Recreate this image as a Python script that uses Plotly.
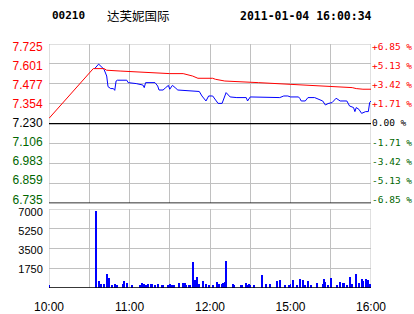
import plotly.graph_objects as go

# ---------------- data ----------------
stock_code = "00210"
stock_name = "达芙妮国际"
timestamp = "2011-01-04 16:00:34"

prev_close = 7.230
price_tick_vals = [6.735, 6.859, 6.983, 7.106, 7.230, 7.354, 7.477, 7.601, 7.725]
price_tick_text = ["6.735", "6.859", "6.983", "7.106", "7.230", "7.354", "7.477", "7.601", "7.725"]
pct_tick_text = ["-6.85 %", "-5.13 %", "-3.42 %", "-1.71 %", "0.00 %",
                 "+1.71 %", "+3.42 %", "+5.13 %", "+6.85 %"]

time_tick_vals = [0, 30, 60, 90, 120, 150, 180, 210, 240]
time_tick_text = ["10:00", "", "11:00", "", "12:00", "", "15:00", "", "16:00"]

vol_tick_vals = [1750, 3500, 5250, 7000]
vol_tick_text = ["1750", "3500", "5250", "7000"]

# price line (minute index from 10:00, price)
price_min = [34, 37, 41, 43, 44, 46, 48, 49, 50, 51, 58, 59, 65, 68, 70, 71, 72, 79, 81, 82,
             85, 87, 89, 90, 92, 94, 96, 112, 114, 117, 119, 122, 124, 126, 129, 130, 132,
             135, 140, 147, 148, 150, 170, 172, 175, 178, 180, 186, 187, 188, 191, 193,
             198, 201, 204, 206, 208, 211, 214, 217, 222, 224, 227, 228, 229, 231, 233,
             236, 238, 239, 240]
price_val = [7.572, 7.600, 7.568, 7.526, 7.460, 7.448, 7.448, 7.437, 7.495, 7.500, 7.500,
             7.485, 7.479, 7.475, 7.470, 7.454, 7.485, 7.485, 7.464, 7.439, 7.439, 7.454,
             7.468, 7.444, 7.468, 7.454, 7.439, 7.430, 7.402, 7.371, 7.402, 7.402, 7.375,
             7.356, 7.356, 7.375, 7.423, 7.396, 7.392, 7.392, 7.371, 7.396, 7.396, 7.392,
             7.402, 7.402, 7.396, 7.396, 7.386, 7.371, 7.371, 7.392, 7.392, 7.381, 7.371,
             7.346, 7.355, 7.361, 7.388, 7.371, 7.371, 7.340, 7.330, 7.305, 7.330, 7.319,
             7.294, 7.305, 7.305, 7.361, 7.371]

# average price line
avg_min = [0, 33, 41, 43, 53, 59, 90, 100, 107, 111, 122, 124, 131, 156, 171, 187, 204,
           216, 226, 229, 234, 240]
avg_val = [7.263, 7.572, 7.572, 7.562, 7.557, 7.554, 7.541, 7.541, 7.526, 7.512, 7.512,
           7.506, 7.495, 7.485, 7.479, 7.470, 7.464, 7.458, 7.454, 7.448, 7.444, 7.444]

# volume bars
vol_min = [0, 35, 37, 39, 41, 43, 45, 47, 49, 51, 55, 56, 58, 62, 68, 69, 71, 72, 74, 76,
           77, 79, 81, 84, 85, 89, 90, 92, 93, 97, 100, 101, 102, 104, 105, 107, 109, 110,
           112, 115, 117, 119, 122, 125, 127, 129, 130, 131, 132, 137, 138, 143, 144, 147,
           148, 149, 150, 153, 159, 162, 165, 170, 172, 176, 179, 180, 182, 185, 187, 189,
           191, 193, 195, 200, 204, 205, 206, 208, 210, 215, 217, 219, 220, 222, 224, 226,
           229, 231, 233, 234, 236, 238, 239]
vol_val = [200, 6850, 585, 290, 290, 1180, 825, 200, 290, 200, 290, 560, 380, 200, 200, 380,
           290, 200, 350, 290, 290, 200, 350, 200, 200, 200, 290, 200, 200, 380, 380, 380,
           200, 200, 200, 2270, 675, 910, 290, 560, 290, 200, 200, 470, 290, 290, 380, 500,
           2360, 290, 200, 200, 200, 380, 200, 290, 200, 200, 1090, 290, 290, 560, 650, 200,
           200, 290, 650, 200, 735, 650, 200, 560, 200, 380, 290, 735, 470, 200, 825, 200,
           470, 380, 380, 200, 910, 290, 1180, 380, 735, 560, 735, 650, 290]

# ---------------- styles ----------------
RED = "#FF0000"
GREEN = "#006600"
BLACK = "#000000"
GRID = "#C0C0C0"
PRICE_RANGE = [6.735, 7.725]
VOL_RANGE = [0, 7000]

# label slots: labels sit slightly inside the panel edges, as in the reference
label_idx = list(range(9))
label_range = [-0.2105, 8.158]
vlabel_idx = [1, 2, 3, 4]
vlabel_range = [0.019, 4.141]


def colored(texts, vals):
    out = []
    for t, v in zip(texts, vals):
        if abs(v - prev_close) < 1e-6:
            c = BLACK
        elif v > prev_close:
            c = RED
        else:
            c = GREEN
        out.append('<span style="color:%s">%s</span>' % (c, t))
    return out


fig = go.Figure()

fig.add_trace(go.Scatter(x=price_min, y=price_val, mode="lines",
                         line=dict(color="#0000FF", width=1), xaxis="x", yaxis="y",
                         hoverinfo="skip", showlegend=False))
fig.add_trace(go.Scatter(x=avg_min, y=avg_val, mode="lines",
                         line=dict(color=RED, width=1), xaxis="x", yaxis="y",
                         hoverinfo="skip", showlegend=False))
# invisible helper traces so the label axes are drawn
for ax in ["y3", "y4"]:
    fig.add_trace(go.Scatter(x=[0, 240], y=[4, 4], mode="lines", opacity=0,
                             line=dict(width=0), xaxis="x", yaxis=ax,
                             hoverinfo="skip", showlegend=False))
fig.add_trace(go.Scatter(x=[0, 240], y=[2, 2], mode="lines", opacity=0,
                         line=dict(width=0), xaxis="x2", yaxis="y5",
                         hoverinfo="skip", showlegend=False))
fig.add_trace(go.Bar(x=vol_min, y=vol_val, width=0.75, marker=dict(color="#0000FF", line_width=0),
                     xaxis="x2", yaxis="y2", hoverinfo="skip", showlegend=False))

axis_common = dict(range=[0, 240], tickvals=time_tick_vals, showgrid=True, gridcolor=GRID,
                   gridwidth=1, zeroline=False, showline=False, automargin=False)

fig.update_layout(
    width=414, height=314,
    margin=dict(l=49, r=43, t=44, b=26),
    paper_bgcolor="white", plot_bgcolor="white",
    hovermode=False, bargap=0,
    xaxis=dict(domain=[0, 1], anchor="y", showticklabels=False, **axis_common),
    xaxis2=dict(domain=[0, 1], anchor="y2", showticklabels=True, ticktext=time_tick_text,
                tickfont=dict(family="Liberation Sans", size=12, color=BLACK),
                ticks="outside", ticklen=8, tickcolor="rgba(0,0,0,0)", **axis_common),
    # price panel: grid only
    yaxis=dict(domain=[0.347, 1], anchor="x", range=PRICE_RANGE,
               tickvals=price_tick_vals, showticklabels=False,
               showgrid=True, gridcolor=GRID, zeroline=False, showline=False,
               automargin=False),
    # left price labels
    yaxis4=dict(overlaying="y", side="left", anchor="x", range=label_range,
                tickvals=label_idx, ticktext=colored(price_tick_text, price_tick_vals),
                tickfont=dict(family="Liberation Sans", size=12),
                showgrid=False, zeroline=False, showline=False, automargin=False,
                ticks="outside", ticklen=3, tickcolor="rgba(0,0,0,0)"),
    # right percent labels
    yaxis3=dict(overlaying="y", side="right", anchor="x", range=label_range,
                tickvals=label_idx, ticktext=colored(pct_tick_text, price_tick_vals),
                tickfont=dict(family="DejaVu Sans Mono", size=9.5),
                showgrid=False, zeroline=False, showline=False, ticks="",
                automargin=False),
    # volume panel
    yaxis2=dict(domain=[0, 0.3225], anchor="x2", range=VOL_RANGE,
                tickvals=vol_tick_vals, showticklabels=False,
                showgrid=True, gridcolor=GRID, zeroline=False, showline=False,
                automargin=False),
    yaxis5=dict(overlaying="y2", side="left", anchor="x2", range=vlabel_range,
                tickvals=vlabel_idx, ticktext=vol_tick_text,
                tickfont=dict(family="Liberation Sans", size=11, color=BLACK),
                showgrid=False, zeroline=False, showline=False, automargin=False,
                ticks="outside", ticklen=3, tickcolor="rgba(0,0,0,0)"),
    shapes=[
        dict(type="rect", xref="x", yref="y", x0=0, x1=240, y0=PRICE_RANGE[0], y1=PRICE_RANGE[1],
             line=dict(color=GRID, width=1), layer="below"),
        dict(type="line", xref="x", yref="y", x0=0, x1=240, y0=prev_close, y1=prev_close,
             line=dict(color=BLACK, width=1.2)),
        dict(type="line", xref="x", yref="y", x0=0, x1=240, y0=PRICE_RANGE[0], y1=PRICE_RANGE[0],
             line=dict(color=BLACK, width=1.5)),
        dict(type="rect", xref="x2", yref="y2", x0=0, x1=240, y0=VOL_RANGE[0], y1=VOL_RANGE[1],
             line=dict(color=GRID, width=1), layer="below"),
        dict(type="line", xref="x2", yref="y2", x0=0, x1=240, y0=0, y1=0,
             line=dict(color=BLACK, width=1.5)),
    ],
    annotations=[
        dict(text="<b>%s</b>" % stock_code, xref="paper", yref="paper", x=0.003, y=1.115,
             xanchor="left", yanchor="middle", showarrow=False,
             font=dict(family="DejaVu Sans Mono", size=11, color=BLACK)),
        dict(text=stock_name, xref="paper", yref="paper", x=0.174, y=1.115,
             xanchor="left", yanchor="middle", showarrow=False,
             font=dict(family="Noto Sans CJK SC", size=12.5, color=BLACK)),
        dict(text="<b>%s</b>" % timestamp, xref="paper", yref="paper", x=0.587, y=1.115,
             xanchor="left", yanchor="middle", showarrow=False,
             font=dict(family="DejaVu Sans Mono", size=11.5, color=BLACK)),
    ],
)

fig.write_html("out.html")
